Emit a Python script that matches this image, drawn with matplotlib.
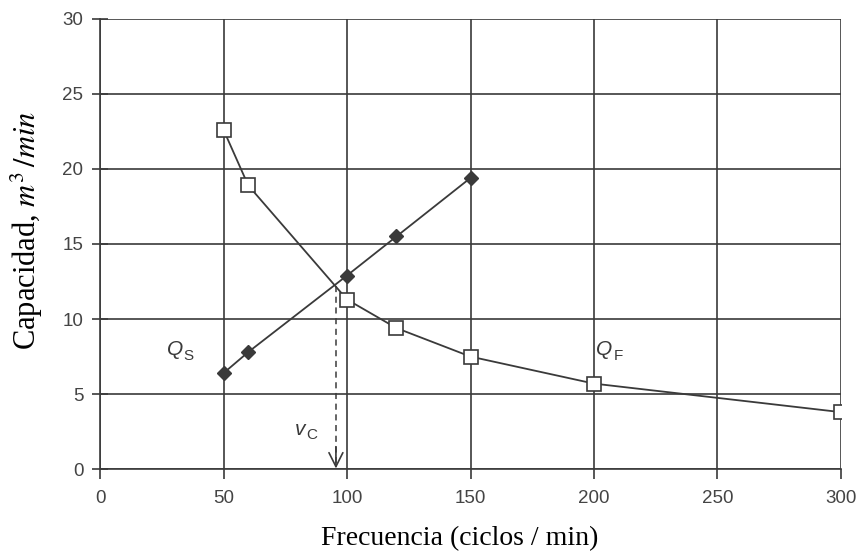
import matplotlib
matplotlib.use("Agg")
from matplotlib import pyplot as plt
import numpy as np

# curva de alimentacion (QF) y de descarga (QS)
freq_f = [50, 60, 100, 120, 150, 200, 300]
cap_f = [22.6, 18.9, 11.3, 9.4, 7.5, 5.7, 3.8]
freq_s = [50, 60, 100, 120, 150]
cap_s = [6.4, 7.8, 12.9, 15.5, 19.4]
v_c = 95.5
v_c_cap = 12.2

xticks = [0, 50, 100, 150, 200, 250, 300]
yticks = [0, 5, 10, 15, 20, 25, 30]

plt.rcParams['mathtext.fontset'] = 'stix'
grey = "#3a3a3a"

fig, ax = plt.subplots(figsize=(8.59, 5.52), dpi=100)
fig.subplots_adjust(left=0.1165, right=0.979, top=0.966, bottom=0.15)

ax.plot(freq_f, cap_f, color=grey, lw=1.3, marker="s", ms=9.5,
        mfc="white", mec=grey, mew=1.2, zorder=4)
ax.plot(freq_s, cap_s, color=grey, lw=1.3, marker="D", ms=7,
        mfc=grey, mec=grey, zorder=4)

# flecha discontinua hasta v_C
ax.plot([v_c, v_c], [v_c_cap, 0.2], color=grey, lw=1.1, ls=(0, (4, 3)), zorder=3)
ax.annotate("", xy=(v_c, 0.05), xytext=(v_c, 1.5),
            arrowprops=dict(arrowstyle="->,head_length=1.0,head_width=0.5",
                            color=grey, lw=1.2, shrinkA=0, shrinkB=0),
            zorder=3)

big = dict(family="Liberation Sans", fontsize=15, color=grey, style="italic")
small = dict(family="Liberation Sans", fontsize=11, color=grey)
ax.text(27, 7.6, "Q", **big)
ax.text(33.8, 7.3, "S", **small)
ax.text(201, 7.6, "Q", **big)
ax.text(207.8, 7.3, "F", **small)
ax.text(79, 2.3, "v", **big)
ax.text(83.6, 2.0, "C", **small)

ax.set_xlim(0, 300)
ax.set_ylim(0, 30)
ax.set_xticks(xticks)
ax.set_yticks(yticks)
ax.grid(True, color=grey, lw=1.2)
ax.set_axisbelow(True)
for s in ["top", "right"]:
    ax.spines[s].set_visible(False)
for s in ["left", "bottom"]:
    ax.spines[s].set_color(grey)
    ax.spines[s].set_linewidth(1.2)
ax.tick_params(axis="y", direction="inout", length=12, width=1.2, color=grey, pad=6)
ax.tick_params(axis="x", direction="out", length=7, width=1.2, color=grey, pad=8)
for t in ax.get_xticklabels() + ax.get_yticklabels():
    t.set_family("Liberation Sans")
    t.set_fontsize(13.5)
    t.set_color("#444444")

ax.set_xlabel("Frecuencia (ciclos / min)", family="Liberation Serif", fontsize=20)
ax.set_ylabel("Capacidad, $m^3\\,/min$", family="Liberation Serif", fontsize=22)
ax.xaxis.set_label_coords(0.486, -0.127)
ax.yaxis.set_label_coords(-0.074, 0.53)

plt.savefig("out.png")
